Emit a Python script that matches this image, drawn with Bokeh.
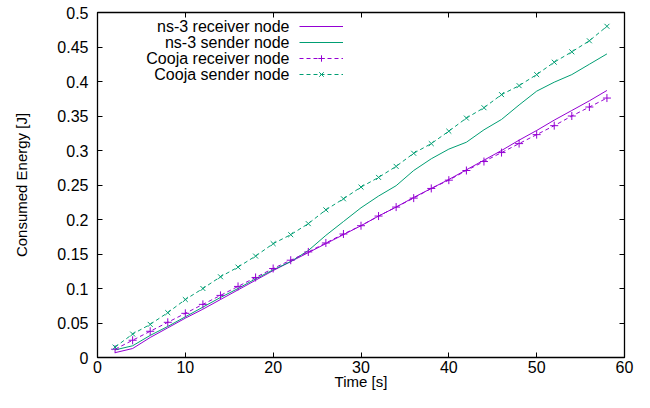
from bokeh.plotting import figure
from bokeh.models import Range1d, FixedTicker, LinearAxis, Legend, LegendItem, Label
from bokeh.embed import file_html
from bokeh.resources import INLINE

# ---------------- data ----------------
time_s = [2, 4, 6, 8, 10, 12, 14, 16, 18, 20, 22, 24, 26, 28, 30,
          32, 34, 36, 38, 40, 42, 44, 46, 48, 50, 52, 54, 56, 58]

ns3_receiver = [0.007, 0.013, 0.029, 0.043, 0.057, 0.070, 0.084, 0.098, 0.112, 0.126,
                0.139, 0.152, 0.165, 0.178, 0.191, 0.205, 0.218, 0.232, 0.245, 0.258,
                0.272, 0.286, 0.300, 0.315, 0.329, 0.344, 0.358, 0.372, 0.387]

ns3_sender = [0.011, 0.017, 0.032, 0.045, 0.059, 0.073, 0.087, 0.100, 0.114, 0.127,
              0.139, 0.155, 0.177, 0.197, 0.217, 0.234, 0.249, 0.271, 0.288, 0.302,
              0.312, 0.330, 0.345, 0.366, 0.386, 0.399, 0.410, 0.425, 0.440]

cooja_receiver = [0.012, 0.025, 0.038, 0.051, 0.064, 0.077, 0.090, 0.103, 0.116, 0.129,
                  0.141, 0.153, 0.166, 0.179, 0.191, 0.205, 0.218, 0.231, 0.245, 0.257,
                  0.271, 0.284, 0.297, 0.310, 0.323, 0.336, 0.350, 0.363, 0.376]

cooja_sender = [0.015, 0.034, 0.048, 0.065, 0.084, 0.100, 0.117, 0.131, 0.147, 0.165,
                0.178, 0.194, 0.214, 0.230, 0.247, 0.261, 0.277, 0.296, 0.310, 0.328,
                0.347, 0.362, 0.381, 0.394, 0.410, 0.428, 0.443, 0.459, 0.480]

series_names = ["ns-3 receiver node", "ns-3 sender node",
                "Cooja receiver node", "Cooja sender node"]

x_ticks = [0, 10, 20, 30, 40, 50, 60]
y_ticks = [0, 0.05, 0.1, 0.15, 0.2, 0.25, 0.3, 0.35, 0.4, 0.45, 0.5]
y_tick_labels = ["0", "0.05", "0.1", "0.15", "0.2", "0.25", "0.3",
                 "0.35", "0.4", "0.45", "0.5"]

x_label = "Time [s]"
y_label = "Consumed Energy [J]"

# ---------------- style ----------------
PURPLE = "#9400d3"
GREEN = "#009e73"
FONT = "Liberation Sans"
FS = "16px"

p = figure(width=634, height=392, output_backend="svg", toolbar_location=None,
           x_range=Range1d(0, 60), y_range=Range1d(0, 0.5),
           min_border_left=97, min_border_right=10, min_border_top=12,
           min_border_bottom=35)
p.xgrid.visible = False
p.ygrid.visible = False
p.outline_line_color = "black"
p.outline_line_width = 1.3
p.background_fill_color = "white"
p.border_fill_color = "white"

r1 = p.line(time_s, ns3_receiver, line_color=PURPLE, line_width=1)
r2 = p.line(time_s, ns3_sender, line_color=GREEN, line_width=1)
r3l = p.line(time_s, cooja_receiver, line_color=PURPLE, line_width=1, line_dash="4 3")
r3m = p.scatter(time_s, cooja_receiver, marker="cross", size=8, line_color=PURPLE,
                line_width=1)
r4l = p.line(time_s, cooja_sender, line_color=GREEN, line_width=1, line_dash="4 3")
r4m = p.scatter(time_s, cooja_sender, marker="x", size=7, line_color=GREEN,
                line_width=1)

def style_axis(ax):
    ax.major_tick_in = 5
    ax.major_tick_out = 0
    ax.major_tick_line_color = "black"
    ax.minor_tick_line_color = None
    ax.axis_line_color = "black"
    ax.major_label_text_font = FONT
    ax.major_label_text_font_size = FS
    ax.major_label_text_color = "black"
    ax.axis_label_text_font = FONT
    ax.axis_label_text_font_size = "15px"
    ax.axis_label_text_font_style = "normal"
    ax.axis_label_text_color = "black"

xa = p.xaxis[0]
style_axis(xa)
xa.ticker = FixedTicker(ticks=x_ticks)
xa.major_label_standoff = 3
xa.axis_label = x_label
xa.axis_label_standoff = -3

ya = p.yaxis[0]
style_axis(ya)
ya.ticker = FixedTicker(ticks=y_ticks)
ya.major_label_overrides = dict(zip(y_ticks, y_tick_labels))
ya.major_label_standoff = 9
ya.axis_label = y_label
ya.axis_label_standoff = 24

# mirrored tick marks (top and right), no labels
top = LinearAxis(ticker=FixedTicker(ticks=x_ticks),
                 major_label_overrides={t: "" for t in x_ticks})
style_axis(top)
top.major_label_text_font_size = "0px"
top.major_label_standoff = 0
top.axis_line_color = None
p.add_layout(top, "above")

right = LinearAxis(ticker=FixedTicker(ticks=y_ticks),
                   major_label_overrides={t: "" for t in y_ticks})
style_axis(right)
right.major_label_text_font_size = "0px"
right.major_label_standoff = 0
right.axis_line_color = None
p.add_layout(right, "right")

# legend: gnuplot style (text right-aligned, sample on the right)
items = [LegendItem(label="", renderers=[r1]),
         LegendItem(label="", renderers=[r2]),
         LegendItem(label="", renderers=[r3l, r3m]),
         LegendItem(label="", renderers=[r4l, r4m])]
legend = Legend(items=items, location=(202, 275), orientation="vertical",
                glyph_width=44, glyph_height=16, label_height=16, label_width=0,
                spacing=0, padding=0, margin=0, label_standoff=0,
                border_line_color=None, background_fill_alpha=0,
                label_text_font=FONT, label_text_font_size="1px")
p.add_layout(legend)

for i, name in enumerate(series_names):
    p.add_layout(Label(x=192, y=331 - 16 * i, x_units="screen", y_units="screen",
                       text=name, text_align="right", text_baseline="middle",
                       text_font=FONT, text_font_size=FS, text_color="black"))

open("out.html", "w").write(file_html(p, INLINE))
